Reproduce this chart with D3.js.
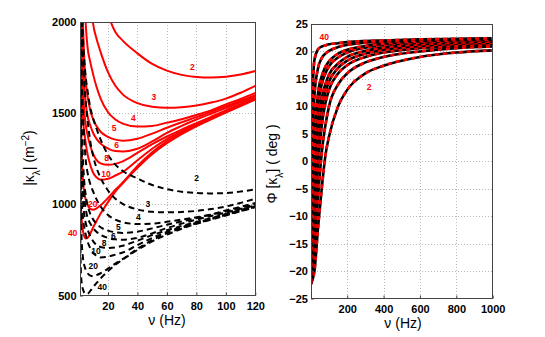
<!DOCTYPE html>
<html><head><meta charset="utf-8">
<script src="https://cdn.jsdelivr.net/npm/d3@7"></script>
<style>
body{margin:0;background:#fff}
svg{display:block}
text{font-family:"Liberation Sans",Arial,Helvetica,sans-serif}
</style>
</head><body>
<svg id="chart" width="545" height="337"></svg>
<script>
// ---------------- DATA ----------------
const curveLabels = ["2","3","4","5","6","8","10","20","40"];

// Left panel: |kappa_lambda| (m^-2) vs frequency (Hz)
const magNu = [1, 1.2, 1.5, 2, 3, 4, 5, 6, 8, 10, 12, 15, 20, 25, 30, 40, 50, 60, 70, 80, 90, 100, 110, 120];

const redMag2  = [null,null,null,null,null,null,null,null,null,null,2300,2170,2040,1945,1898,1828,1770,1733,1710,1699,1696,1700,1712,1731];
const redMag3  = [null,null,null,null,null,null,null,2350,2150,1985,1915,1835,1725,1650,1603,1555,1535,1530,1533,1542,1558,1580,1612,1650];
const redMag4  = [null,null,null,null,2400,2150,1975,1870,1780,1710,1650,1580,1505,1465,1443,1427,1430,1448,1467,1490,1515,1548,1578,1611];
const redMag5  = [null,null,2800,2400,2000,1780,1670,1600,1515,1465,1432,1398,1370,1355,1349,1360,1388,1420,1450,1478,1508,1538,1568,1598];
const redMag6  = [3300,2800,2400,2100,1800,1640,1550,1490,1432,1390,1362,1333,1306,1292,1290,1305,1345,1392,1430,1465,1497,1528,1560,1590];
const redMag8  = [2800,2450,2150,1900,1640,1500,1430,1385,1320,1275,1245,1225,1217,1222,1236,1282,1330,1372,1410,1445,1480,1515,1550,1584];
const redMag10 = [2700,2200,1950,1700,1480,1390,1330,1280,1215,1172,1150,1135,1140,1158,1178,1242,1305,1358,1400,1438,1473,1510,1546,1581];
const redMag20 = [2300,1900,1600,1330,1130,1060,1022,998,975,970,977,995,1035,1080,1120,1210,1285,1345,1393,1433,1470,1507,1543,1578];
const redMag40 = [2100,1400,1050,930,855,822,813,815,840,875,905,950,1012,1070,1115,1200,1275,1335,1385,1428,1466,1503,1539,1574];

const blackMag2  = [null,null,2400,2150,1920,1780,1690,1630,1530,1470,1420,1355,1272,1218,1183,1142,1106,1083,1069,1062,1060,1062,1070,1082];
const blackMag3  = [null,null,null,2060,1810,1656,1550,1470,1344,1262,1205,1145,1076,1031,1002,972,959,956,958,964,974,988,1008,1031];
const blackMag4  = [null,2125,1940,1750,1500,1344,1234,1180,1110,1069,1031,988,941,916,902,892,894,904,916,929,944,967,986,1007];
const blackMag5  = [2125,1940,1750,1500,1250,1112,1044,1000,947,916,895,874,856,847,843,850,868,888,906,924,943,961,980,999];
const blackMag6  = [2060,1750,1500,1312,1125,1025,969,931,895,869,851,833,816,808,806,816,841,870,894,916,936,955,975,994];
const blackMag8  = [2060,1600,1375,1188,1025,938,894,866,825,797,778,766,761,764,773,801,831,858,881,903,925,947,969,990];
const blackMag10 = [2050,1375,1219,1063,925,869,831,800,759,733,719,709,713,724,736,776,816,849,875,899,921,944,966,988];
const blackMag20 = [1440,1190,1000,831,706,663,639,624,609,606,611,622,647,675,700,756,803,841,871,896,919,942,964,986];
const blackMag40 = [1313,875,656,581,534,514,508,509,525,547,566,594,633,669,697,750,797,834,866,893,916,939,962,984];

const redMag   = [redMag2, redMag3, redMag4, redMag5, redMag6, redMag8, redMag10, redMag20, redMag40];
const blackMag = [blackMag2, blackMag3, blackMag4, blackMag5, blackMag6, blackMag8, blackMag10, blackMag20, blackMag40];

// curve label anchors (data units)
const redLabelNu   = [77.2, 51.2, 37.2, 24.1, 25.9, 19.1, 18.6, 9.6, -4.0];
const redLabelVal  = [1755, 1589, 1475, 1420, 1325, 1253, 1165, 1002, 845];
const blackLabelNu  = [80.2, 47.0, 40.6, 27.0, 23.6, 17.3, 11.9, 10.0, 16.1];
const blackLabelVal = [1146, 1000, 929, 874, 826, 790, 746, 662, 548];

const magXTicks = [20, 40, 60, 80, 100, 120];
const magYTicks = [500, 1000, 1500, 2000];

// Right panel: phase of kappa_lambda (deg) vs frequency (Hz)
const phaseNu = [1, 3, 5, 10, 20, 40, 60, 80, 100, 150, 200, 300, 400, 600, 800, 1000];
const phase2  = [-22.3,-22.2,-22.0,-21.5,-20.0,-12.0,-5.0,1.0,4.5,10.0,13.0,16.0,17.4,19.0,19.8,20.2];
const phase3  = [-22.3,-22.1,-21.8,-20.5,-16.5,-6.5,1.5,6.5,10.0,14.0,16.0,18.0,19.0,20.0,20.6,20.9];
const phase4  = [-22.3,-22.0,-21.5,-19.5,-13.0,-0.8,6.5,10.5,13.0,16.0,17.5,19.0,19.8,20.6,21.0,21.3];
const phase5  = [-22.3,-21.8,-21.0,-18.0,-10.0,3.5,9.5,12.5,14.5,17.0,18.3,19.6,20.3,21.0,21.4,21.6];
const phase6  = [-22.3,-21.6,-20.5,-16.5,-7.0,6.0,11.5,14.0,15.8,17.8,19.0,20.1,20.7,21.3,21.6,21.8];
const phase8  = [-22.3,-21.3,-19.5,-13.5,-1.0,10.0,14.0,16.0,17.3,18.9,19.8,20.7,21.2,21.6,21.9,22.0];
const phase10 = [-22.2,-21.0,-18.5,-11.0,3.5,12.5,15.5,17.2,18.2,19.6,20.3,21.0,21.4,21.8,22.0,22.1];
const phase20 = [-22.2,-19.5,-14.0,1.5,12.0,17.0,18.8,19.6,20.1,20.8,21.2,21.6,21.8,22.0,22.2,22.3];
const phase40 = [-22.0,-12.0,0.0,12.0,18.5,20.4,20.9,21.1,21.3,21.5,21.7,21.9,22.0,22.2,22.3,22.4];
const phaseSeries = [phase2, phase3, phase4, phase5, phase6, phase8, phase10, phase20, phase40];

const phaseLabelText = ["40", "2"];
const phaseLabelNu   = [74, 320];
const phaseLabelVal  = [22.7, 13.6];

const phaseXTicks = [200, 400, 600, 800, 1000];
const phaseYTicks = [-25, -20, -15, -10, -5, 0, 5, 10, 15, 20, 25];

// ---------------- DRAW ----------------
const svg = d3.select("#chart");
const RED = "#ff0000";
const GRID = "#b8b8b8";
const fmt = d3.format("d");

function panel(opts) {
  const {id, x, y, xTicks, yTicks} = opts;
  const [x0, x1] = x.range();
  const [y0, y1] = y.range(); // y0 bottom, y1 top
  const g = svg.append("g");
  g.append("clipPath").attr("id", id).append("rect")
    .attr("x", x0).attr("y", y1).attr("width", x1 - x0).attr("height", y0 - y1);
  const grid = g.append("g").attr("stroke", GRID).attr("stroke-width", 1).attr("stroke-dasharray", "1,2");
  xTicks.filter(t => Math.abs(x(t) - x1) > 1).forEach(t => {
    grid.append("line").attr("x1", Math.round(x(t)) + 0.5).attr("x2", Math.round(x(t)) + 0.5).attr("y1", y1).attr("y2", y0);
  });
  yTicks.filter(t => Math.abs(y(t) - y0) > 1 && Math.abs(y(t) - y1) > 1).forEach(t => {
    grid.append("line").attr("y1", Math.round(y(t)) + 0.5).attr("y2", Math.round(y(t)) + 0.5).attr("x1", x0).attr("x2", x1);
  });
  const plot = g.append("g").attr("clip-path", `url(#${id})`);
  return {g, plot};
}

function styleAxis(sel) {
  sel.select(".domain").remove();
  sel.selectAll(".tick line").attr("stroke", "#444");
  sel.selectAll(".tick text").attr("fill", "#000").attr("font-size", 11).attr("font-weight", "bold")
     .attr("font-family", '"Liberation Sans",Arial,sans-serif');
}

// ---- Left panel ----
const xL = d3.scaleLinear().domain([1, 120]).range([80, 255.3]);
const yL = d3.scaleLinear().domain([500, 2000]).range([295.5, 22]);
const L = panel({id: "clipL", x: xL, y: yL, xTicks: magXTicks, yTicks: magYTicks});

const lineL = d3.line()
  .defined(d => d[1] != null)
  .x(d => xL(d[0])).y(d => yL(d[1]))
  .curve(d3.curveMonotoneX);

redMag.forEach(s => {
  L.plot.append("path").attr("d", lineL(magNu.map((n, i) => [n, s[i]])))
    .attr("fill", "none").attr("stroke", RED).attr("stroke-width", 2);
});
blackMag.forEach(s => {
  L.plot.append("path").attr("d", lineL(magNu.map((n, i) => [n, s[i]])))
    .attr("fill", "none").attr("stroke", "#000").attr("stroke-width", 2)
    .attr("stroke-dasharray", "6,4");
});

L.g.append("g").attr("transform", `translate(0,${yL.range()[0]})`)
  .call(d3.axisBottom(xL).tickValues(magXTicks).tickFormat(fmt).tickSizeInner(-3).tickSizeOuter(0).tickPadding(7))
  .call(styleAxis);
L.g.append("g").attr("transform", `translate(${xL.range()[0]},0)`)
  .call(d3.axisLeft(yL).tickValues(magYTicks).tickFormat(fmt).tickSizeInner(-3).tickSizeOuter(0).tickPadding(3.5))
  .call(styleAxis);
L.g.append("rect").attr("x", 80.5).attr("y", 22.5).attr("width", 175).attr("height", 273)
  .attr("fill", "none").attr("stroke", "#444").attr("stroke-width", 1);

curveLabels.forEach((t, i) => {
  L.g.append("text").attr("x", xL(redLabelNu[i])).attr("y", yL(redLabelVal[i])).attr("dy", "0.35em")
    .attr("text-anchor", "middle").attr("font-size", 8.5).attr("font-weight", "bold").attr("fill", RED).text(t);
  L.g.append("text").attr("x", xL(blackLabelNu[i])).attr("y", yL(blackLabelVal[i])).attr("dy", "0.35em")
    .attr("text-anchor", "middle").attr("font-size", 8.5).attr("font-weight", "bold").attr("fill", "#000").text(t);
});

L.g.append("text").attr("x", 167).attr("y", 325).attr("text-anchor", "middle").attr("font-size", 14)
  .text("ν (Hz)");
const tL = L.g.append("text").attr("transform", "translate(34,158) rotate(-90)").attr("text-anchor", "middle").attr("font-size", 14);
tL.append("tspan").text("|κ");
tL.append("tspan").attr("baseline-shift", "sub").attr("font-size", 10).text("λ");
tL.append("tspan").text("| (m");
tL.append("tspan").attr("baseline-shift", "super").attr("font-size", 10).text("−2");
tL.append("tspan").text(")");

// ---- Right panel ----
const xR = d3.scaleLinear().domain([1, 1000]).range([311, 492.7]);
const yR = d3.scaleLinear().domain([-25, 25]).range([298.5, 24]);
const R = panel({id: "clipR", x: xR, y: yR, xTicks: phaseXTicks, yTicks: phaseYTicks});

const lineR = d3.line().x(d => xR(d[0])).y(d => yR(d[1])).curve(d3.curveMonotoneX);
phaseSeries.forEach(s => {
  const d = lineR(phaseNu.map((n, i) => [n, s[i]]));
  R.plot.append("path").attr("d", d).attr("fill", "none").attr("stroke", "#000").attr("stroke-width", 2.6);
  R.plot.append("path").attr("d", d).attr("fill", "none").attr("stroke", RED).attr("stroke-width", 2.6)
    .attr("stroke-dasharray", "4,4");
});

R.g.append("g").attr("transform", `translate(0,${yR.range()[0]})`)
  .call(d3.axisBottom(xR).tickValues(phaseXTicks).tickFormat(fmt).tickSizeInner(-3).tickSizeOuter(0).tickPadding(7))
  .call(styleAxis);
R.g.append("g").attr("transform", `translate(${xR.range()[0]},0)`)
  .call(d3.axisLeft(yR).tickValues(phaseYTicks).tickFormat(fmt).tickSizeInner(-3).tickSizeOuter(0).tickPadding(3))
  .call(styleAxis);
R.g.append("rect").attr("x", 311.5).attr("y", 24.5).attr("width", 181).attr("height", 274)
  .attr("fill", "none").attr("stroke", "#444").attr("stroke-width", 1);

phaseLabelText.forEach((t, i) => {
  R.g.append("text").attr("x", xR(phaseLabelNu[i])).attr("y", yR(phaseLabelVal[i])).attr("dy", "0.35em")
    .attr("text-anchor", "middle").attr("font-size", 8.5).attr("font-weight", "bold").attr("fill", RED).text(t);
});

R.g.append("text").attr("x", 403).attr("y", 328).attr("text-anchor", "middle").attr("font-size", 14)
  .text("ν (Hz)");
const tR = R.g.append("text").attr("transform", "translate(277,164) rotate(-90)").attr("text-anchor", "middle").attr("font-size", 14);
tR.append("tspan").text("Φ [κ");
tR.append("tspan").attr("baseline-shift", "sub").attr("font-size", 10).text("λ");
tR.append("tspan").text("] ( deg )");
</script>
</body></html>
